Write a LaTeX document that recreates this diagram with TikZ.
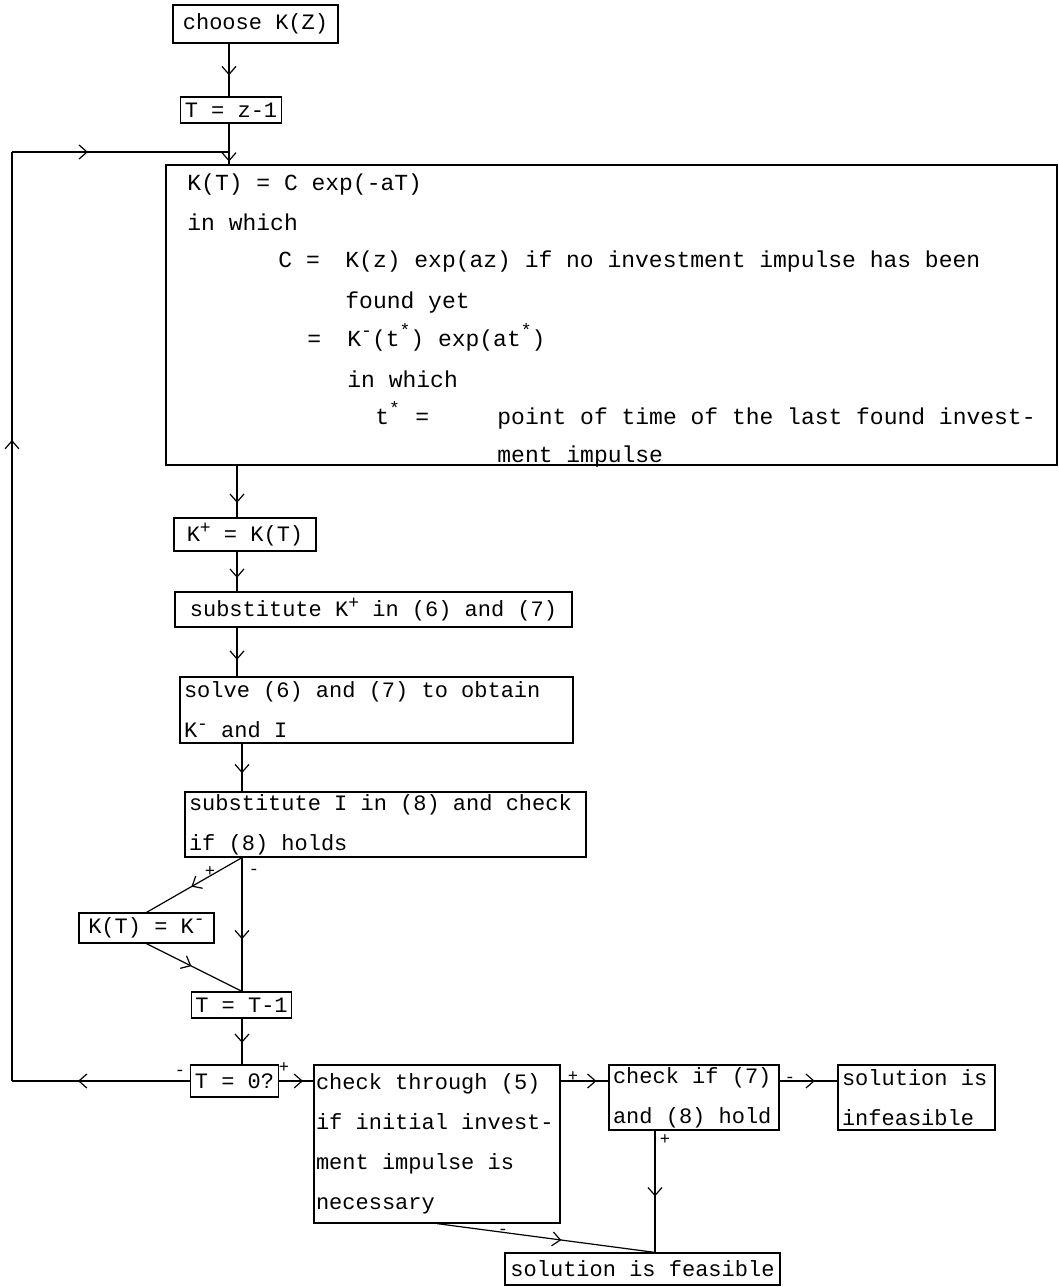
\documentclass[tikz,border=0pt]{standalone}
\usepackage{fontspec}
\setmonofont{Liberation Mono}
\usepackage{tikz}
\usetikzlibrary{arrows.meta,decorations.markings,calc}
\newcommand{\tyf}{\ttfamily\fontsize{11}{20}\selectfont}
\newcommand{\tyb}{\ttfamily\fontsize{11.5}{20}\selectfont}
\newcommand{\upp}[1]{\raisebox{0.75ex}{\fontsize{9}{9}\selectfont #1}}

\begin{document}
\begin{tikzpicture}[x=0.5pt, y=-0.5pt,
  box/.style={draw, line width=0.6pt, font=\tyf, inner xsep=2pt, inner ysep=0pt, align=flush left},
  flow/.style={line width=0.6pt, postaction={decorate},
               decoration={markings, mark=at position #1 with {\arrow{Straight Barb[length=4pt,width=7pt,line width=0.6pt]}}}},
  sign/.style={font=\ttfamily\fontsize{8.5}{8.5}\selectfont, inner sep=0pt},
  txt/.style={font=\tyb, anchor=base west, inner sep=0pt},
]
\useasboundingbox (0,0) rectangle (1059,1287);

\coordinate (ta) at (229,0);
\coordinate (tb) at (237,0);
\coordinate (tc) at (242,0);
\coordinate (fx) at (655,0);
\coordinate (lx) at (12,0);
\coordinate (ltop) at (12,152);
\coordinate (join) at (229,152);

\node[box, minimum width=82.5pt, minimum height=19pt] (choose) at (255.5,24) {choose K(Z)};
\node[box, minimum width=49pt, minimum height=13pt] (tz) at (231,110) {T = z-1};
\node[box, minimum width=445.5pt, minimum height=150pt] (big) at (611.5,315) {};

\node[txt] (l1)  at (187,190) {K(T) = C exp(-aT)};
\node[txt] (l2)  at (187,230) {in which};
\node[txt] (l3a) at (278,267) {C =};
\node[txt] (l3b) at (345,267) {K(z) exp(az) if no investment impulse has been};
\node[txt] (l4)  at (345,308) {found yet};
\node[txt] (l5a) at (307,346) {=};
\node[txt] (l5b) at (347,346) {K\upp{-}(t\upp{*}) exp(at\upp{*})};
\node[txt] (l6)  at (347,387) {in which};
\node[txt] (l7a) at (375,424) {t\upp{*}};
\node[txt] (l7b) at (415,424) {=};
\node[txt] (l7c) at (497,424) {point of time of the last found invest-};
\node[txt] (l8)  at (497,462) {ment impulse};

\node[box, minimum width=71pt, minimum height=16.5pt] (kp) at (245,534.5) {K\upp{+} = K(T)};
\node[box, minimum width=198.5pt, minimum height=17.5pt] (subk) at (373.5,609.5) {substitute K\upp{+} in (6) and (7)};
\node[box, text width=192.5pt, minimum height=33pt] (solve) at (376.5,710) {solve (6) and (7) to obtain\\K\upp{-} and I};
\node[box, text width=196.5pt, minimum height=32.5pt] (subi) at (385.5,824.5) {substitute I in (8) and check\\if (8) holds};
\node[box, minimum width=67.5pt, minimum height=15pt] (kt) at (146.5,928) {K(T) = K\upp{-}};
\node[box, minimum width=48.5pt, minimum height=13pt] (tt) at (241.5,1005) {T = T-1};
\node[box, minimum width=42.5pt, minimum height=16pt] (t0) at (234.5,1081) {T = 0?};
\node[box, inner xsep=1pt, text width=121pt, minimum height=79pt] (chk5) at (437,1144) {check through (5)\\if initial invest-\\ment impulse is\\necessary};
\node[box, text width=81pt, minimum height=32.5pt] (chk78) at (694,1097.5) {check if (7)\\and (8) hold};
\node[box, text width=74.5pt, minimum height=32.5pt] (inf) at (916.5,1097.5) {solution is\\infeasible};
\node[box, minimum width=137.5pt, minimum height=16pt] (feas) at (642.5,1269) {solution is feasible};

\node[sign] (s1) at (210,872) {+};
\node[sign] (s2) at (254,872) {-};
\node[sign] (s3) at (180,1073) {-};
\node[sign] (s4) at (284,1068) {+};
\node[sign] (s5) at (573,1077) {+};
\node[sign] (s6) at (790,1080) {-};
\node[sign] (s7) at (665,1140) {+};
\node[sign] (s8) at (503,1232) {-};

\draw[flow=0.6] (choose.south -| ta) -- (tz.north -| ta);
\draw[flow=0.93] (tz.south -| ta) -- (big.north -| ta);
\draw[flow=0.72] (big.south -| tb) -- (kp.north -| tb);
\draw[flow=0.66] (kp.south -| tb) -- (subk.north -| tb);
\draw[flow=0.66] (subk.south -| tb) -- (solve.north -| tb);
\draw[flow=0.62] (solve.south -| tc) -- (subi.north -| tc);
\draw[flow=0.61] (subi.south -| tc) -- (tt.north -| tc);
\draw[flow=0.53] (subi.south -| tc) -- (kt.north);
\draw[flow=0.47] (kt.south) -- (tt.north -| tc);
\draw[flow=0.53] (tt.south -| tc) -- (t0.north -| tc);
\draw[flow=0.63] (t0.west) -- (t0.west -| lx);
\draw[flow=0.69] (t0.west -| lx) -- (ltop);
\draw[flow=0.35] (ltop) -- (join);
\draw[flow=0.7] (t0.east) -- (t0.east -| chk5.west);
\draw[flow=0.75] (chk5.east |- t0.east) -- (chk78.west |- t0.east);
\draw[flow=0.61] (chk78.east |- t0.east) -- (inf.west |- t0.east);
\draw[flow=0.54] (chk78.south -| fx) -- (feas.north -| fx);
\draw[flow=0.57] (chk5.south) -- (feas.north -| fx);
\end{tikzpicture}
\end{document}
